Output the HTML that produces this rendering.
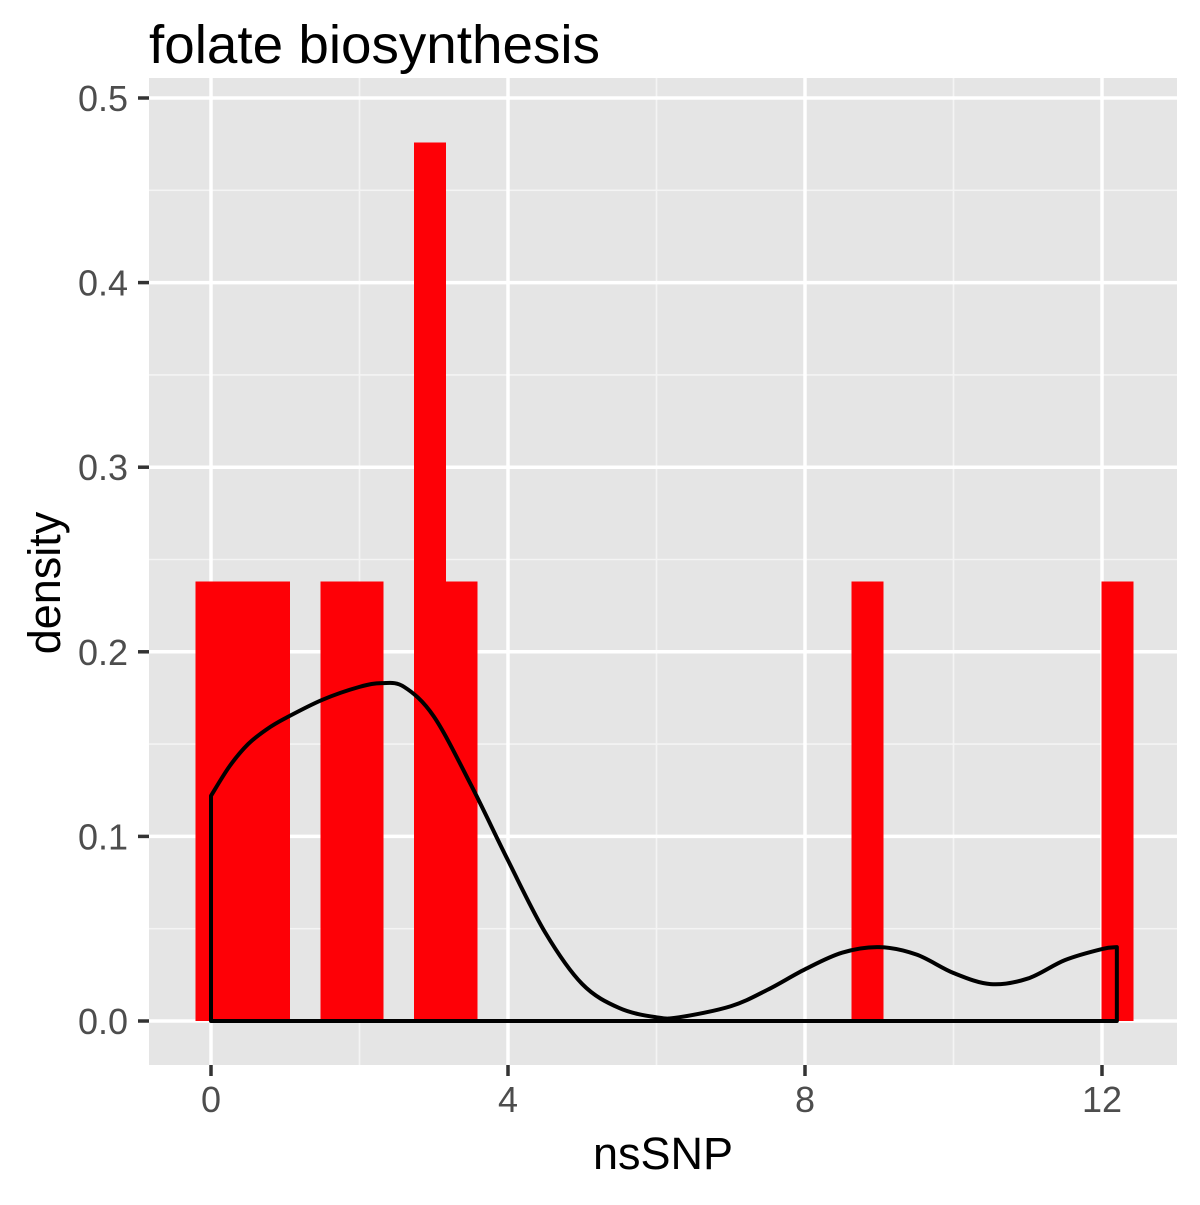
<!DOCTYPE html>
<html><head><meta charset="utf-8"><style>
body{margin:0;background:#fff;}
svg text{font-family:"Liberation Sans",Arial,sans-serif;}
</style></head><body>
<svg width="1200" height="1200" xmlns="http://www.w3.org/2000/svg">
<rect x="149" y="78" width="1028" height="987" fill="#e5e5e5"/>
<g id="grid"></g>
<g id="bars" shape-rendering="crispEdges"></g>
<path id="dens" fill="none" stroke="#000" stroke-width="4" stroke-linejoin="round"/>
<g id="axes"></g>
<text x="149" y="63" font-size="54" fill="#000" textLength="451" lengthAdjust="spacingAndGlyphs">folate biosynthesis</text>
<text x="663" y="1169" font-size="45" text-anchor="middle" fill="#000">nsSNP</text>
<text transform="translate(60,583) rotate(-90)" font-size="45" text-anchor="middle" fill="#000">density</text>
</svg>
<script>
const binIndex=[0,1,2,4,5,7,8,21,29];
const binDensity=[0.238,0.238,0.238,0.238,0.238,0.476,0.238,0.238,0.238];
const binWidth=0.4207;
const densX=[0,0.25,0.5,0.75,1,1.5,2,2.3,2.6,3,3.5,4,4.5,5,5.5,6,6.3,7,7.5,8,8.5,9,9.5,10,10.5,11,11.5,12,12.2];
const densY=[0.122,0.138,0.15,0.158,0.164,0.174,0.181,0.183,0.181,0.165,0.128,0.087,0.048,0.02,0.007,0.002,0.002,0.008,0.017,0.028,0.037,0.04,0.036,0.026,0.02,0.023,0.033,0.039,0.04];
const xTicks=[0,4,8,12];
const yTicks=[0,0.1,0.2,0.3,0.4,0.5];
const NS="http://www.w3.org/2000/svg";
const X=v=>211+v*74.25;
const Y=v=>1021-v*1846;
function mk(t,a,p){const e=document.createElementNS(NS,t);for(const k in a)e.setAttribute(k,a[k]);p.appendChild(e);return e;}
const g=document.getElementById('grid');
[2,6,10].forEach(v=>{const l=mk('line',{x1:X(v),x2:X(v),y1:78,y2:1065,stroke:'#f4f4f4','stroke-width':1.6},g);

});
[0.05,0.15,0.25,0.35,0.45].forEach(v=>{const l=mk('line',{x1:149,x2:1177,y1:Y(v),y2:Y(v),stroke:'#f4f4f4','stroke-width':1.6},g);

});
xTicks.forEach(v=>{const l=mk('line',{x1:X(v),x2:X(v),y1:78,y2:1065,stroke:'#fff','stroke-width':3.5},g);

});
yTicks.forEach(v=>{const l=mk('line',{x1:149,x2:1177,y1:Y(v),y2:Y(v),stroke:'#fff','stroke-width':3.5},g);

});
const b=document.getElementById('bars');
binIndex.forEach((i,k)=>{const x0=X((i-0.5)*binWidth),x1=X((i+0.5)*binWidth);
const r=mk('rect',{x:x0,y:Y(binDensity[k]),width:x1-x0+0.8,height:Y(0)-Y(binDensity[k]),fill:'#fe0006'},b);

});
const pts=densX.map((x,i)=>[X(x),Y(densY[i])]);
let d=`M${X(densX[densX.length-1])},${Y(0)} L${X(0)},${Y(0)} L${pts[0][0]},${pts[0][1]}`;
for(let i=0;i<pts.length-1;i++){const p0=pts[Math.max(0,i-1)],p1=pts[i],p2=pts[i+1],p3=pts[Math.min(pts.length-1,i+2)];
d+=` C${p1[0]+(p2[0]-p0[0])/6},${p1[1]+(p2[1]-p0[1])/6} ${p2[0]-(p3[0]-p1[0])/6},${p2[1]-(p3[1]-p1[1])/6} ${p2[0]},${p2[1]}`;}
d+=' Z';
document.getElementById('dens').setAttribute('d',d);
const a=document.getElementById('axes');
xTicks.forEach(v=>{const l=mk('line',{x1:X(v),x2:X(v),y1:1065,y2:1076,stroke:'#333','stroke-width':3.5},a);


const t=mk('text',{x:X(v),y:1112,'font-size':36,'text-anchor':'middle',fill:'#4d4d4d'},a);t.textContent=v;

});
yTicks.forEach(v=>{const l=mk('line',{x1:138,x2:149,y1:Y(v),y2:Y(v),stroke:'#333','stroke-width':3.5},a);


const t=mk('text',{x:128,y:Y(v)+13,'font-size':36,'text-anchor':'end',fill:'#4d4d4d'},a);t.textContent=v.toFixed(1);

});
</script>
</body></html>
